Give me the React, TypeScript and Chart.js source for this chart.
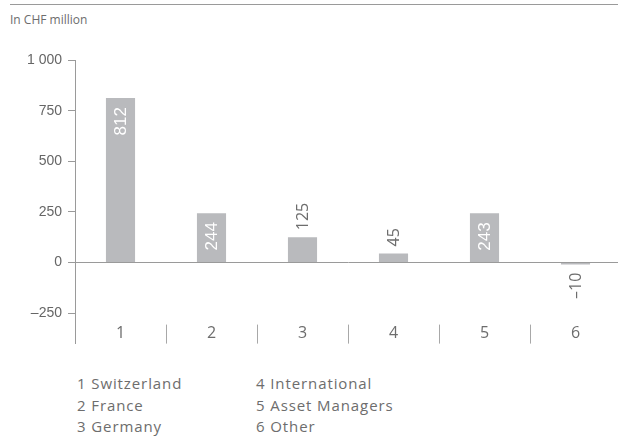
import React, { useEffect, useRef } from "react";
import { Chart, registerables } from "chart.js";

Chart.register(...registerables);

const categories = ["1", "2", "3", "4", "5", "6"];
const values = [812, 244, 125, 45, 243, -10];
const yTicks = [1000, 750, 500, 250, 0, -250];
const legendLeft = ["1 Switzerland", "2 France", "3 Germany"];
const legendRight = ["4 International", "5 Asset Managers", "6 Other"];
const unitLabel = "In CHF million";

const BAR = "#b9babd";
const AXIS = "#9a9a9a";
const TEXT = "#6d6d6d";
const HUMAN = "'Open Sans', Lato, sans-serif";

function fmt(v: number): string {
  const s = Math.abs(v).toString().replace(/\B(?=(\d{3})+(?!\d))/g, " ");
  return v < 0 ? "\u2013" + s : s;
}

const labelPlugin = {
  id: "labels",
  afterDraw(chart: any) {
    const ctx = chart.ctx;
    const x = chart.scales.x;
    const y = chart.scales.y;
    const area = chart.chartArea;
    ctx.save();
    ctx.strokeStyle = "#a8a8a8";
    ctx.lineWidth = 1;
    for (let i = 0; i < categories.length - 1; i++) {
      const px = Math.round((x.getPixelForValue(i) + x.getPixelForValue(i + 1)) / 2) + 0.5;
      ctx.beginPath();
      ctx.moveTo(px, area.bottom - 19);
      ctx.lineTo(px, area.bottom);
      ctx.stroke();
    }
    ctx.fillStyle = TEXT;
    ctx.font = `16px ${HUMAN}`;
    ctx.textAlign = "center";
    ctx.textBaseline = "middle";
    categories.forEach((c, i) => {
      ctx.fillText(c, x.getPixelForValue(i), area.bottom - 10);
    });
    const meta = chart.getDatasetMeta(0);
    meta.data.forEach((bar: any, i: number) => {
      const v = values[i];
      const label = fmt(v);
      const zero = y.getPixelForValue(0);
      ctx.save();
      ctx.textBaseline = "middle";
      if (v >= 200) {
        ctx.translate(bar.x, bar.y + 9);
        ctx.rotate(-Math.PI / 2);
        ctx.textAlign = "right";
        ctx.fillStyle = "#ffffff";
        ctx.font = `17px 'Liberation Sans', Arial, sans-serif`;
      } else if (v >= 0) {
        ctx.translate(bar.x, bar.y - 7);
        ctx.rotate(-Math.PI / 2);
        ctx.textAlign = "left";
        ctx.fillStyle = TEXT;
        ctx.font = `16px ${HUMAN}`;
      } else {
        ctx.translate(bar.x, Math.max(bar.y, zero) + 8);
        ctx.rotate(-Math.PI / 2);
        ctx.textAlign = "right";
        ctx.fillStyle = TEXT;
        ctx.font = `16px ${HUMAN}`;
      }
      ctx.fillText(label, 0, 1);
      ctx.restore();
    });
    ctx.restore();
  },
};

export default function App() {
  const ref = useRef<HTMLCanvasElement | null>(null);

  useEffect(() => {
    if (!ref.current) return;
    const chart = new Chart(ref.current, {
      type: "bar",
      data: {
        labels: categories,
        datasets: [
          {
            data: values,
            backgroundColor: BAR,
            borderWidth: 0,
            barPercentage: 0.32,
            categoryPercentage: 1,
          },
        ],
      },
      options: {
        animation: false,
        responsive: false,
        maintainAspectRatio: false,
        layout: { padding: { top: 60, bottom: 7, left: 0, right: 0 } },
        plugins: {
          legend: { display: false },
          tooltip: { enabled: false },
          title: { display: false },
        },
        scales: {
          x: { display: false, offset: true },
          y: {
            min: -400,
            max: 1000,
            afterBuildTicks: (scale: any) => {
              scale.ticks = yTicks.map((v) => ({ value: v }));
            },
            afterFit: (scale: any) => {
              scale.width = 75;
            },
            ticks: {
              callback: (v: any) => fmt(Number(v)),
              color: "#666666",
              font: { family: "'Liberation Sans', Arial, sans-serif", size: 14 },
              padding: 6,
            },
            grid: {
              color: (c: any) => (c.tick && c.tick.value === 0 ? AXIS : "rgba(0,0,0,0)"),
              tickColor: AXIS,
              tickLength: 7,
              lineWidth: 1,
            },
            border: { display: true, color: AXIS, width: 1 },
          },
        },
      },
      plugins: [labelPlugin],
    });
    return () => chart.destroy();
  }, []);

  const legendStyle: React.CSSProperties = {
    position: "absolute",
    top: 373,
    fontFamily: HUMAN,
    fontSize: 15,
    letterSpacing: "0.9px",
    lineHeight: "21.5px",
    color: TEXT,
    whiteSpace: "nowrap",
  };

  return (
    <div
      style={{
        position: "absolute",
        left: 0,
        top: 0,
        width: 618,
        height: 437,
        overflow: "hidden",
        background: "#ffffff",
      }}
    >
      <div
        style={{
          position: "absolute",
          left: 10,
          right: 0,
          top: 4,
          borderTop: `1px solid ${AXIS}`,
        }}
      />
      <div
        style={{
          position: "absolute",
          left: 10,
          top: 12,
          fontFamily: HUMAN,
          fontSize: 12,
          lineHeight: "16px",
          color: TEXT,
        }}
      >
        {unitLabel}
      </div>
      <canvas
        ref={ref}
        width={621}
        height={358}
        style={{ position: "absolute", left: 0, top: 0, width: 621, height: 358 }}
      />
      <div style={{ ...legendStyle, left: 77 }}>
        {legendLeft.map((t) => (
          <div key={t}>{t}</div>
        ))}
      </div>
      <div style={{ ...legendStyle, left: 256 }}>
        {legendRight.map((t) => (
          <div key={t}>{t}</div>
        ))}
      </div>
    </div>
  );
}
